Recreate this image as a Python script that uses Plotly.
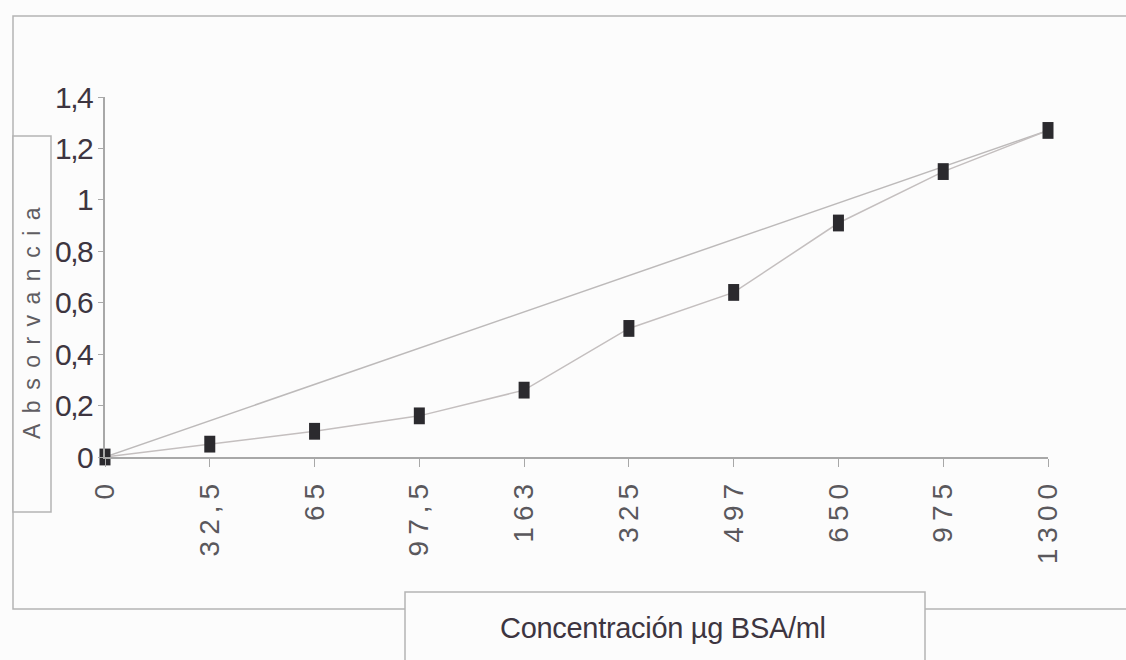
import plotly.graph_objects as go

# Concentration series (µg BSA/ml) and measured absorbance
concentraciones = ["0", "32,5", "65", "97,5", "163", "325", "497", "650", "975", "1300"]
absorbancia = [0.0, 0.05, 0.10, 0.16, 0.26, 0.50, 0.64, 0.91, 1.11, 1.27]

y_ticks = [0, 0.2, 0.4, 0.6, 0.8, 1.0, 1.2, 1.4]
y_tick_text = ["0", "0,2", "0,4", "0,6", "0,8", "1", "1,2", "1,4"]

titulo_x = "Concentración µg BSA/ml"
titulo_y = "Absorvancia"

W, H = 1126, 660
L, R, T, B = 105, 78, 97, 203
PW, PH = W - L - R, H - T - B

def px(x):
    return (x - L) / PW

def py(y):
    return (H - B - y) / PH

idx = list(range(len(concentraciones)))

# straight reference line from first to last reading
tendencia_x = [idx[0], idx[-1]]
tendencia_y = [absorbancia[0], absorbancia[-1]]

fig = go.Figure()
fig.add_trace(go.Scatter(
    x=tendencia_x, y=tendencia_y, mode="lines",
    line=dict(color="#bdbaba", width=1.5), cliponaxis=False, hoverinfo="skip",
))
fig.add_trace(go.Scatter(
    x=idx, y=absorbancia, mode="lines+markers",
    line=dict(color="#c4bfbf", width=1.5),
    marker=dict(symbol="line-ns", size=12, color="#2b2a2e",
                line=dict(color="#2b2a2e", width=11)),
    cliponaxis=False,
))

label_css = "letter-spacing:6px"
fig.update_xaxes(
    range=[0, 9], tickvals=idx,
    ticktext=[f'<span style="{label_css}">{t}</span>' for t in concentraciones],
    tickangle=-90, showline=True, linecolor="#a8a8a8", linewidth=1.5,
    ticks="outside", ticklen=8, tickcolor="#a8a8a8", showgrid=False, zeroline=False,
    ticklabelstandoff=0,
    tickfont=dict(family="Liberation Sans", size=28, color="#5a585c"),
)
fig.update_yaxes(
    range=[0, 1.4], tickvals=y_ticks,
    ticktext=[f'<span style="letter-spacing:-1.5px">{t}</span>' for t in y_tick_text],
    showline=True, linecolor="#a8a8a8", linewidth=1.5,
    ticks="outside", ticklen=5, tickcolor="#a8a8a8", showgrid=False, zeroline=False,
    tickfont=dict(family="Liberation Sans", size=30, color="#3d3540"),
)

box_line = dict(color="#b4b4b4", width=1.5)
fig.update_layout(
    width=W, height=H, autosize=False, showlegend=False,
    margin=dict(l=L, r=R, t=T, b=B),
    paper_bgcolor="#fcfcfc", plot_bgcolor="#fcfcfc",
    shapes=[
        # outer chart frame
        dict(type="rect", xref="paper", yref="paper",
             x0=px(13), x1=px(1140), y0=py(609), y1=py(16), line=box_line),
        # y-axis title box
        dict(type="rect", xref="paper", yref="paper",
             x0=px(13), x1=px(51), y0=py(512), y1=py(136), line=box_line,
             fillcolor="#fcfcfc"),
        # x-axis title box
        dict(type="rect", xref="paper", yref="paper",
             x0=px(405), x1=px(925), y0=py(680), y1=py(592), line=box_line,
             fillcolor="#fcfcfc"),
    ],
    annotations=[
        dict(xref="paper", yref="paper", x=px(663), y=py(628), showarrow=False,
             xanchor="center", yanchor="middle",
             text=f'<span style="letter-spacing:-0.3px">{titulo_x}</span>',
             font=dict(family="Liberation Sans", size=29, color="#3d3540")),
        dict(xref="paper", yref="paper", x=px(32), y=py(318), showarrow=False,
             xanchor="center", yanchor="middle", textangle=-90,
             text=f'<span style="letter-spacing:10.5px">{titulo_y}</span>',
             font=dict(family="Liberation Sans", size=23, color="#5f5d62")),
    ],
)

fig.write_html("out.html")
